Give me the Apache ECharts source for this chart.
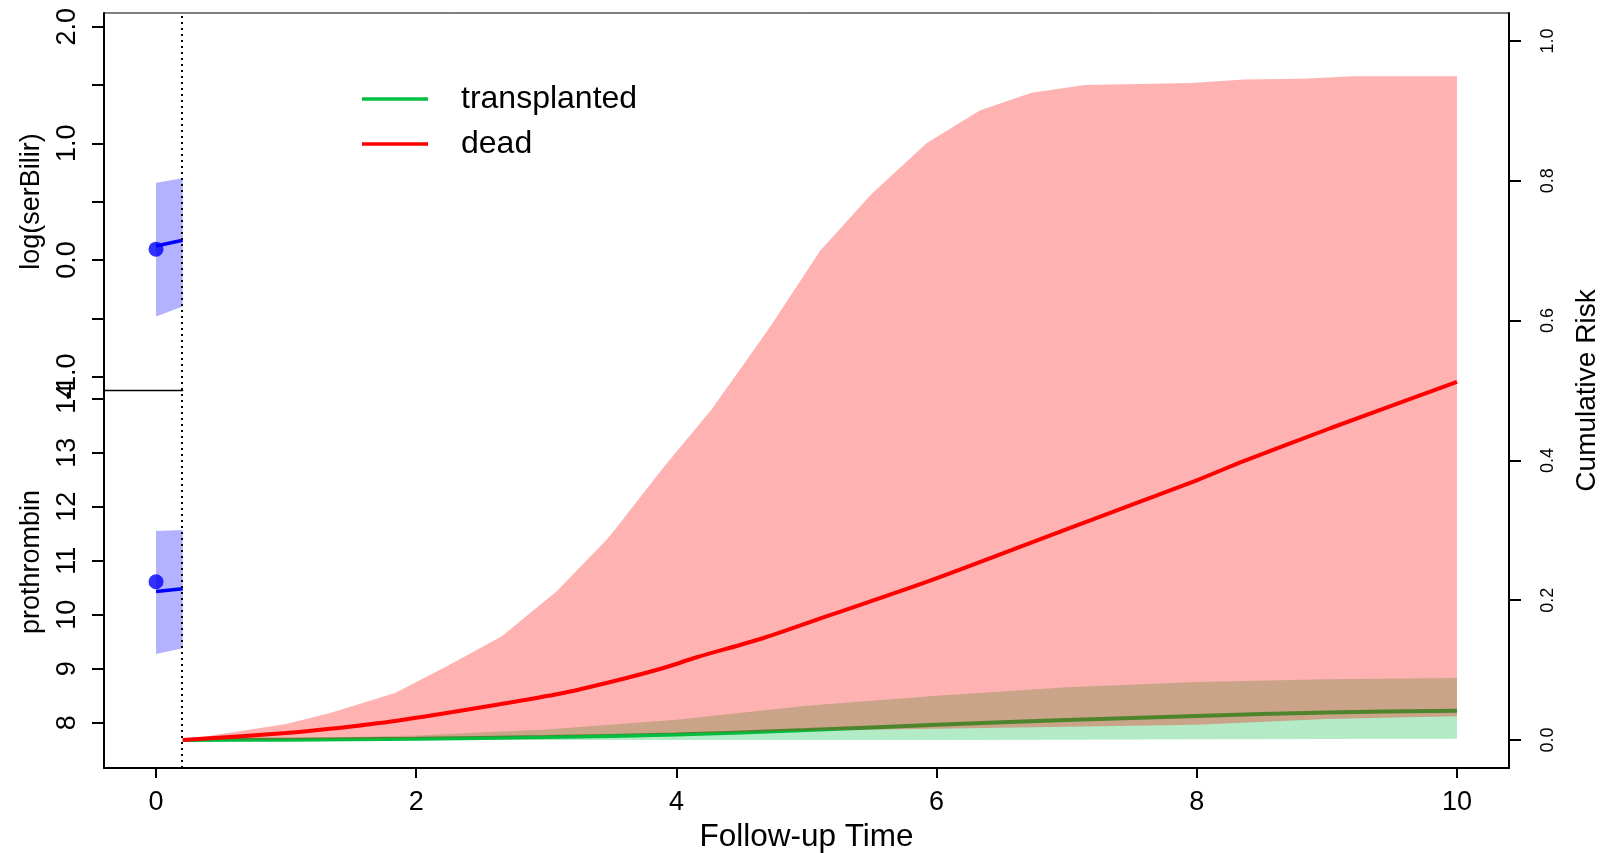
<!DOCTYPE html>
<html>
<head>
<meta charset="utf-8">
<script src="https://cdn.jsdelivr.net/npm/echarts@6/dist/echarts.min.js"></script>
<style>
html,body{margin:0;padding:0;background:#fff;}
#c{width:1604px;height:853px;}
</style>
</head>
<body>
<div id="c"></div>
<script>
// ---- data ----
const lastTime = 0.205;               // dotted line (last observation)
const xTicks = [0, 2, 4, 6, 8, 10];
const riskTicks = [0, 0.2, 0.4, 0.6, 0.8, 1.0];
const serBilirTicks = [-1, -0.5, 0, 0.5, 1, 1.5, 2];
const serBilirLabels = [-1, 0, 1, 2];
const prothTicks = [8, 9, 10, 11, 12, 13, 14];

// longitudinal panels
const longT = [0, 0.205];
const serBilirFit = [0.12, 0.17];
const serBilirLo = [-0.485, -0.399];
const serBilirHi = [0.663, 0.701];
const serBilirObs = [[0, 0.093]];
const prothFit = [10.43, 10.48];
const prothLo = [9.27, 9.38];
const prothHi = [11.55, 11.57];
const prothObs = [[0, 10.61]];

// cumulative risk: dead
const deadT = [0.205, 1, 1.338, 1.85, 2.62, 3.13, 3.516, 3.9, 4.157, 4.67, 5.18, 5.95, 6.976, 8.0, 8.36, 9.026, 10];
const dead = [0, 0.0099, 0.016, 0.0277, 0.0506, 0.0673, 0.084, 0.103, 0.1184, 0.146, 0.1786, 0.228, 0.300, 0.3716, 0.399, 0.446, 0.5125];
const deadUpT = [0.205, 1, 1.338, 1.837, 2.235, 2.376, 2.658, 3.08, 3.465, 3.54, 3.90, 4.27, 4.69, 4.77, 5.105, 5.50, 5.656, 5.925, 6.335, 6.73, 7.14, 7.96, 8.36, 8.80, 9.205, 10];
const deadUp = [0, 0.0228, 0.0386, 0.0672, 0.1055, 0.1198, 0.1485, 0.213, 0.287, 0.304, 0.390, 0.473, 0.583, 0.605, 0.700, 0.781, 0.808, 0.854, 0.901, 0.926, 0.937, 0.940, 0.945, 0.946, 0.9495, 0.9495];
const deadLoT = [0.205, 1, 2, 3, 4, 5, 6, 7, 8, 9, 10];
const deadLo = [0, 0.001, 0.003, 0.006, 0.0095, 0.0135, 0.016, 0.019, 0.022, 0.030, 0.034];

// cumulative risk: transplanted
const transT = [0.205, 1, 2, 3, 4, 5, 6, 7, 8, 9, 10];
const trans = [0, 0.0005, 0.0018, 0.0042, 0.0078, 0.0142, 0.022, 0.0285, 0.0345, 0.0394, 0.042];
const transUp = [0, 0.002, 0.0065, 0.015, 0.029, 0.049, 0.0635, 0.0755, 0.083, 0.087, 0.0887];
const transLo = [0, 0, 0, 0, 0, 0, 0, 0.0005, 0.001, 0.0015, 0.002];

// ---- chart ----
const FONT = "'Liberation Sans', Arial, Helvetica, sans-serif";
const zip = (a, b) => a.map((v, i) => [v, b[i]]);

function band(xi, yi, upT, up, loT, lo, fill, z) {
  return {
    type: 'custom', xAxisIndex: xi, yAxisIndex: yi, z: z, silent: true, clip: true,
    data: [[upT[0], up[0]]],
    renderItem: function (params, api) {
      const pts = upT.map((t, i) => api.coord([t, up[i]]))
        .concat(loT.map((t, i) => api.coord([t, lo[i]])).reverse());
      return { type: 'polygon', shape: { points: pts }, style: { fill: fill } };
    }
  };
}

const chart = echarts.init(document.getElementById('c'), null, { renderer: 'canvas' });

const axisLbl = (size) => ({ color: '#000', fontFamily: FONT, fontSize: size });

chart.setOption({
  animation: false,
  backgroundColor: '#fff',
  textStyle: { fontFamily: FONT, color: '#000' },
  grid: [
    { left: 104, right: 95, top: 13, bottom: 85, show: true, borderColor: '#000', borderWidth: 1, backgroundColor: 'transparent', containLabel: false, outerBoundsMode: 'none' },
    { left: 104, width: 78.7, top: 13, height: 377, containLabel: false, outerBoundsMode: 'none' },
    { left: 104, width: 78.7, top: 390, height: 378, containLabel: false, outerBoundsMode: 'none' }
  ],
  legend: {
    data: ['transplanted', 'dead'],
    orient: 'vertical', left: 357, top: 78,
    icon: 'rect', itemWidth: 66, itemHeight: 3.5, itemGap: 13,
    selectedMode: false,
    textStyle: { fontSize: 32, color: '#000', fontFamily: FONT, padding: [0, 0, 0, 28] }
  },
  xAxis: [
    {
      gridIndex: 0, type: 'value', min: -0.4, max: 10.4, position: 'bottom',
      name: 'Follow-up Time', nameLocation: 'middle', nameGap: 51,
      nameTextStyle: { fontSize: 31.5, color: '#000', fontFamily: FONT },
      axisLine: { show: true, onZero: false, lineStyle: { color: '#000', width: 2 } },
      axisTick: { show: true, length: 10, customValues: xTicks, lineStyle: { color: '#000', width: 2 } },
      axisLabel: Object.assign(axisLbl(27), { margin: 21, customValues: xTicks, formatter: v => String(v) }),
      splitLine: { show: false }
    },
    {
      gridIndex: 1, type: 'value', min: -0.4, max: lastTime, position: 'bottom',
      axisLine: { show: true, onZero: false, lineStyle: { color: '#000', width: 1.3 } },
      axisTick: { show: false }, axisLabel: { show: false }, splitLine: { show: false }
    },
    {
      gridIndex: 2, type: 'value', min: -0.4, max: lastTime, show: false,
      splitLine: { show: false }
    }
  ],
  yAxis: [
    {
      gridIndex: 0, type: 'value', min: -0.04, max: 1.04, position: 'right',
      name: 'Cumulative Risk', nameLocation: 'middle', nameGap: 64, nameRotate: 90,
      nameTextStyle: { fontSize: 28, color: '#000', fontFamily: FONT },
      axisLine: { show: true, onZero: false, lineStyle: { color: '#000', width: 2 } },
      axisTick: { show: true, length: 12, customValues: riskTicks, lineStyle: { color: '#000', width: 2 } },
      axisLabel: Object.assign(axisLbl(18), { margin: 30, rotate: 90, customValues: riskTicks, formatter: v => v.toFixed(1) }),
      splitLine: { show: false }
    },
    {
      gridIndex: 1, type: 'value', min: -1.114, max: 2.117, position: 'left',
      name: 'log(serBilir)', nameLocation: 'middle', nameGap: 59,
      nameTextStyle: { fontSize: 27, color: '#000', fontFamily: FONT },
      axisLine: { show: true, onZero: false, lineStyle: { color: '#000', width: 2 } },
      axisTick: { show: true, length: 12, customValues: serBilirTicks, lineStyle: { color: '#000', width: 2 } },
      axisLabel: Object.assign(axisLbl(27), { margin: 23, rotate: 90, customValues: serBilirLabels, formatter: v => v.toFixed(1) }),
      splitLine: { show: false }
    },
    {
      gridIndex: 2, type: 'value', min: 7.161, max: 14.161, position: 'left',
      name: 'prothrombin', nameLocation: 'middle', nameGap: 59,
      nameTextStyle: { fontSize: 27, color: '#000', fontFamily: FONT, padding: [0, 0, 0, 34] },
      axisLine: { show: true, onZero: false, lineStyle: { color: '#000', width: 2 } },
      axisTick: { show: true, length: 12, customValues: prothTicks, lineStyle: { color: '#000', width: 2 } },
      axisLabel: Object.assign(axisLbl(27), { margin: 23, rotate: 90, customValues: prothTicks, formatter: v => String(v) }),
      splitLine: { show: false }
    }
  ],
  series: [
    // cumulative risk panel
    band(0, 0, transT, transUp, transT, transLo, 'rgba(0,190,64,0.3)', 2),
    {
      name: 'transplanted', type: 'line', xAxisIndex: 0, yAxisIndex: 0, z: 3,
      data: zip(transT, trans), showSymbol: false, symbol: 'none', silent: true, smooth: 0.3,
      color: '#00BE40', lineStyle: { color: '#00BE40', width: 4 },
      markLine: {
        silent: true, symbol: 'none', label: { show: false },
        lineStyle: { color: '#000', type: [2, 4], width: 2 },
        data: [{ xAxis: lastTime }]
      }
    },
    band(0, 0, deadUpT, deadUp, deadLoT, deadLo, 'rgba(255,0,0,0.3)', 4),
    {
      name: 'dead', type: 'line', xAxisIndex: 0, yAxisIndex: 0, z: 5,
      data: zip(deadT, dead), showSymbol: false, symbol: 'none', silent: true, smooth: 0.3,
      color: '#FF0000', lineStyle: { color: '#FF0000', width: 4 }
    },
    // log(serBilir) panel
    band(1, 1, longT, serBilirHi, longT, serBilirLo, 'rgba(0,0,255,0.3)', 2),
    {
      type: 'line', xAxisIndex: 1, yAxisIndex: 1, z: 3, silent: true,
      data: zip(longT, serBilirFit), showSymbol: false, symbol: 'none',
      lineStyle: { color: '#0000FF', width: 3.5 }
    },
    {
      type: 'scatter', xAxisIndex: 1, yAxisIndex: 1, z: 4, silent: true,
      data: serBilirObs, symbol: 'circle', symbolSize: 15, itemStyle: { color: '#0000FF' }
    },
    // prothrombin panel
    band(2, 2, longT, prothHi, longT, prothLo, 'rgba(0,0,255,0.3)', 2),
    {
      type: 'line', xAxisIndex: 2, yAxisIndex: 2, z: 3, silent: true,
      data: zip(longT, prothFit), showSymbol: false, symbol: 'none',
      lineStyle: { color: '#0000FF', width: 3.5 }
    },
    {
      type: 'scatter', xAxisIndex: 2, yAxisIndex: 2, z: 4, silent: true,
      data: prothObs, symbol: 'circle', symbolSize: 15, itemStyle: { color: '#0000FF' }
    }
  ]
});
</script>
</body>
</html>
